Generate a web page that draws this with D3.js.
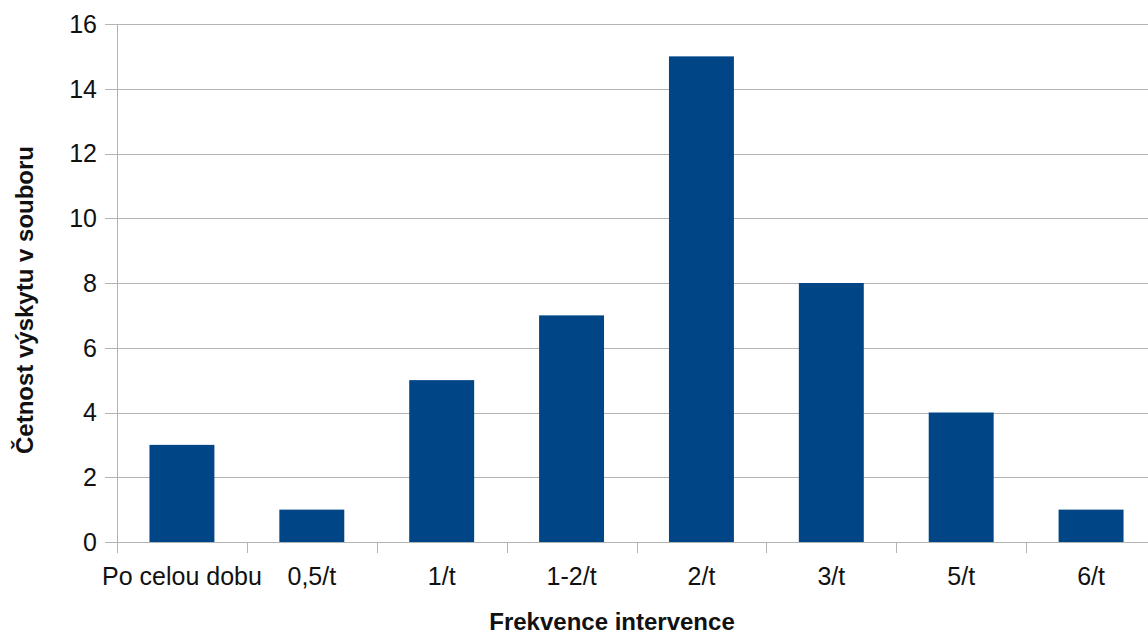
<!DOCTYPE html>
<html>
<head>
<meta charset="utf-8">
<script src="https://cdn.jsdelivr.net/npm/d3@7"></script>
<style>
  html, body { margin: 0; padding: 0; background: #fff; }
  svg { display: block; font-family: "Liberation Sans", Arial, sans-serif; }
</style>
</head>
<body>
<svg id="chart" width="1148" height="634"></svg>
<script>
// Frequency of interventions in the dataset
const categories = ["Po celou dobu", "0,5/t", "1/t", "1-2/t", "2/t", "3/t", "5/t", "6/t"];
const counts = [3, 1, 5, 7, 15, 8, 4, 1];
const yTicks = [0, 2, 4, 6, 8, 10, 12, 14, 16];
const xTitle = "Frekvence intervence";
const yTitle = "Četnost výskytu v souboru";

const svg = d3.select("#chart");
const plot = { left: 117, top: 24, bottom: 542, right: 1156 };

const x = d3.scaleBand().domain(categories).range([plot.left, plot.right]).paddingInner(0.5).paddingOuter(0.25);
const y = d3.scaleLinear().domain([0, 16]).range([plot.bottom, plot.top]);

const gridColor = "#b3b3b3";
const textColor = "#111";

// horizontal gridlines with outward tick stubs
svg.append("g").selectAll("line").data(yTicks).join("line")
  .attr("x1", plot.left - 12).attr("x2", 1148)
  .attr("y1", d => Math.round(y(d)) + 0.5).attr("y2", d => Math.round(y(d)) + 0.5)
  .attr("stroke", gridColor).attr("stroke-width", 1);

// y axis line
svg.append("line")
  .attr("x1", plot.left + 0.5).attr("x2", plot.left + 0.5)
  .attr("y1", plot.top).attr("y2", plot.bottom + 11)
  .attr("stroke", gridColor);

// category boundary ticks on the x axis
const step = x.step();
const boundaries = d3.range(categories.length).map(i => plot.left + i * step);
svg.append("g").selectAll("line").data(boundaries.slice(1)).join("line")
  .attr("x1", d => Math.round(d) + 0.5).attr("x2", d => Math.round(d) + 0.5)
  .attr("y1", plot.bottom).attr("y2", plot.bottom + 11)
  .attr("stroke", gridColor);

// bars
svg.append("g").selectAll("rect").data(categories).join("rect")
  .attr("x", d => x(d))
  .attr("width", x.bandwidth())
  .attr("y", (d, i) => y(counts[i]))
  .attr("height", (d, i) => y(0) - y(counts[i]))
  .attr("fill", "#004586");

// y tick labels
svg.append("g").selectAll("text").data(yTicks).join("text")
  .attr("x", 97).attr("y", d => y(d))
  .attr("dy", "0.35em")
  .attr("text-anchor", "end")
  .attr("font-size", 25)
  .attr("fill", textColor)
  .text(d => d);

// x category labels
svg.append("g").selectAll("text").data(categories).join("text")
  .attr("x", d => x(d) + x.bandwidth() / 2)
  .attr("y", 585)
  .attr("text-anchor", "middle")
  .attr("font-size", 25)
  .attr("fill", textColor)
  .text(d => d);

// axis titles
svg.append("text")
  .attr("x", 612).attr("y", 630)
  .attr("text-anchor", "middle")
  .attr("font-size", 24).attr("font-weight", "bold")
  .attr("fill", textColor)
  .text(xTitle);

svg.append("text")
  .attr("transform", "translate(33,300) rotate(-90)")
  .attr("text-anchor", "middle")
  .attr("font-size", 24).attr("font-weight", "bold")
  .attr("fill", textColor)
  .text(yTitle);
</script>
</body>
</html>
